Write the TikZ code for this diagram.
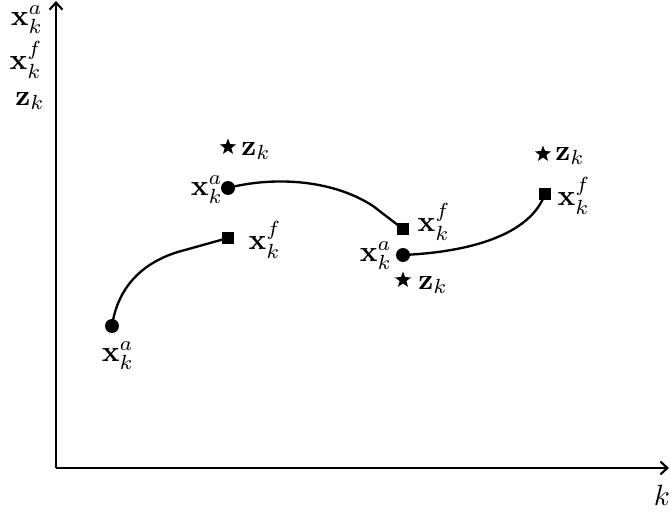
\documentclass[tikz,border=0pt]{standalone}
\usetikzlibrary{shapes.geometric,arrows.meta}
\newcommand\biglbl[1]{\scalebox{2.5}{$#1$}}
\begin{document}
\begin{tikzpicture}[x=0.03cm,y=-0.03cm,
  lab/.style={inner sep=0pt},
  dotm/.style={circle,fill=black,inner sep=0pt,minimum size=14*0.03cm},
  sqm/.style={rectangle,fill=black,inner sep=0pt,minimum size=12*0.03cm},
  starm/.style={star,star points=5,star point ratio=2.4,fill=black,inner sep=0pt,minimum size=17*0.03cm},
  axis/.style={line width=2.2pt,-{Straight Barb[length=6pt,width=11pt,line width=1.8pt]}},
  curve/.style={line width=2pt}]
\useasboundingbox (0,0) rectangle (670,512);
\coordinate (O) at (56,468);
\coordinate (Ytop) at (56,1);
\coordinate (Xend) at (669,468);
\draw[axis] (O) -- (Ytop);
\draw[axis] (O) -- (Xend);
\node[lab] (ya) at (27,20) {\biglbl{\mathbf{x}_k^a}};
\node[lab] (yf) at (26,60) {\biglbl{\mathbf{x}_k^f}};
\node[lab] (yz) at (30,101) {\biglbl{\mathbf{z}_k}};
\node[lab] (kl) at (662,495) {\biglbl{k}};
% markers
\node[dotm] (a1) at (112,326) {};
\node[sqm] (f1) at (228,238) {};
\node[starm] (z1) at (228,147) {};
\node[dotm] (a2) at (228,188) {};
\node[sqm] (f2) at (403,229) {};
\node[dotm] (a3) at (403,255) {};
\node[starm] (z2) at (403,280) {};
\node[sqm] (f3) at (545,194) {};
\node[starm] (z3) at (543,154) {};
% labels
\node[lab] (la1) at (118,356) {\biglbl{\mathbf{x}_k^a}};
\node[lab] (lf1) at (265,240) {\biglbl{\mathbf{x}_k^f}};
\node[lab] (lz1) at (256,151) {\biglbl{\mathbf{z}_k}};
\node[lab] (la2) at (207,190) {\biglbl{\mathbf{x}_k^a}};
\node[lab] (lf2) at (434,222) {\biglbl{\mathbf{x}_k^f}};
\node[lab] (la3) at (376,256) {\biglbl{\mathbf{x}_k^a}};
\node[lab] (lz2) at (433,285) {\biglbl{\mathbf{z}_k}};
\node[lab] (lf3) at (574,196) {\biglbl{\mathbf{x}_k^f}};
\node[lab] (lz3) at (570,156) {\biglbl{\mathbf{z}_k}};
% curves
\draw[curve] (a1.center) .. controls (118,285) and (145,260) .. (185,250) -- (f1.center);
\draw[curve] (a2.center) .. controls (270,177) and (330,178) .. (373,206) -- (f2.center);
\draw[curve] (a3.center) .. controls (470,252) and (530,235) .. (f3.center);
\end{tikzpicture}
\end{document}
